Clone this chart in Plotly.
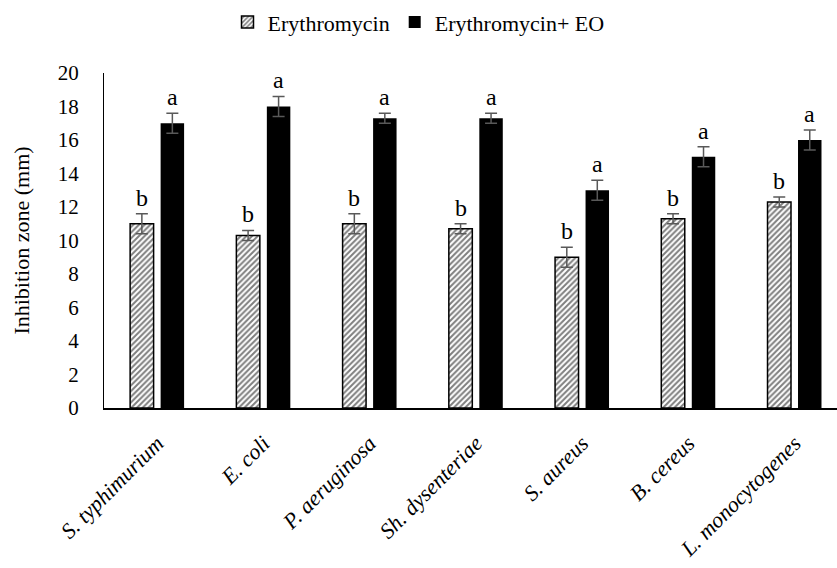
import plotly.graph_objects as go

# Bacterial strains tested
strains = ["S. typhimurium", "E. coli", "P. aeruginosa", "Sh. dysenteriae",
           "S. aureus", "B. cereus", "L. monocytogenes"]

# Inhibition zone diameters (mm) and standard deviations
erythro = [11.0, 10.3, 11.0, 10.7, 9.0, 11.3, 12.3]
erythro_sd = [0.6, 0.3, 0.6, 0.3, 0.6, 0.3, 0.3]
erythro_eo = [17.0, 18.0, 17.3, 17.3, 13.0, 15.0, 16.0]
erythro_eo_sd = [0.6, 0.6, 0.3, 0.3, 0.6, 0.6, 0.6]

# Significance letters
erythro_letters = ["b"] * 7
erythro_eo_letters = ["a"] * 7

SERIF = "Times New Roman, Liberation Serif, Tinos, serif"
BARGAP = 0.426
BARGROUPGAP = 0.23
ERR_COLOR = "#595959"

x_idx = list(range(len(strains)))

fig = go.Figure()
fig.add_trace(go.Bar(
    name="Erythromycin",
    x=x_idx, y=erythro,
    marker=dict(
        color="white",
        line=dict(color="black", width=1.5),
        pattern=dict(shape="/", fgcolor="black", bgcolor="white",
                     size=4, solidity=0.5),
    ),
    error_y=dict(type="data", array=erythro_sd, color=ERR_COLOR,
                 thickness=1.5, width=6),
))
fig.add_trace(go.Bar(
    name="Erythromycin+ EO",
    x=x_idx, y=erythro_eo,
    marker=dict(color="black", line=dict(color="black", width=0)),
    error_y=dict(type="data", array=erythro_eo_sd, color=ERR_COLOR,
                 thickness=1.5, width=6),
))

# Letters sit just above each error bar
offset = (1 - BARGAP) / 4
for i in x_idx:
    fig.add_annotation(x=i - offset, y=erythro[i] + erythro_sd[i],
                       text=erythro_letters[i], showarrow=False,
                       yanchor="bottom", yshift=1,
                       font=dict(family=SERIF, size=24, color="black"))
    fig.add_annotation(x=i + offset, y=erythro_eo[i] + erythro_eo_sd[i],
                       text=erythro_eo_letters[i], showarrow=False,
                       yanchor="bottom", yshift=1,
                       font=dict(family=SERIF, size=24, color="black"))

fig.update_layout(
    width=837, height=568,
    margin=dict(l=103.5, r=0, t=73, b=159.5),
    paper_bgcolor="white", plot_bgcolor="white",
    barmode="group", bargap=BARGAP, bargroupgap=BARGROUPGAP,
    font=dict(family=SERIF, color="black", size=21),
    showlegend=True,
    legend=dict(orientation="h", xref="container", x=0.5, xanchor="center",
                yref="container", y=0.998, yanchor="top",
                font=dict(family=SERIF, size=22, color="black"),
                itemwidth=30, traceorder="normal"),
)
fig.update_xaxes(
    range=[-0.5, 6.4],
    tickmode="array", tickvals=x_idx,
    ticktext=["<i>%s</i>" % s for s in strains],
    tickangle=-45,
    ticklabelstandoff=12,
    tickfont=dict(family=SERIF, size=22, color="black"),
    showline=True, linecolor="black", linewidth=1.5,
    showgrid=False, zeroline=False, ticks="",
)
fig.update_yaxes(
    range=[0, 20], dtick=2,
    showline=True, linecolor="black", linewidth=1,
    showgrid=False, zeroline=False, ticks="",
    ticklabelstandoff=20,
    tickfont=dict(family=SERIF, size=21, color="black"),
    title=dict(text="Inhibition zone (mm)",
               font=dict(family=SERIF, size=22, color="black"),
               standoff=22),
)

fig.write_html("out.html")
